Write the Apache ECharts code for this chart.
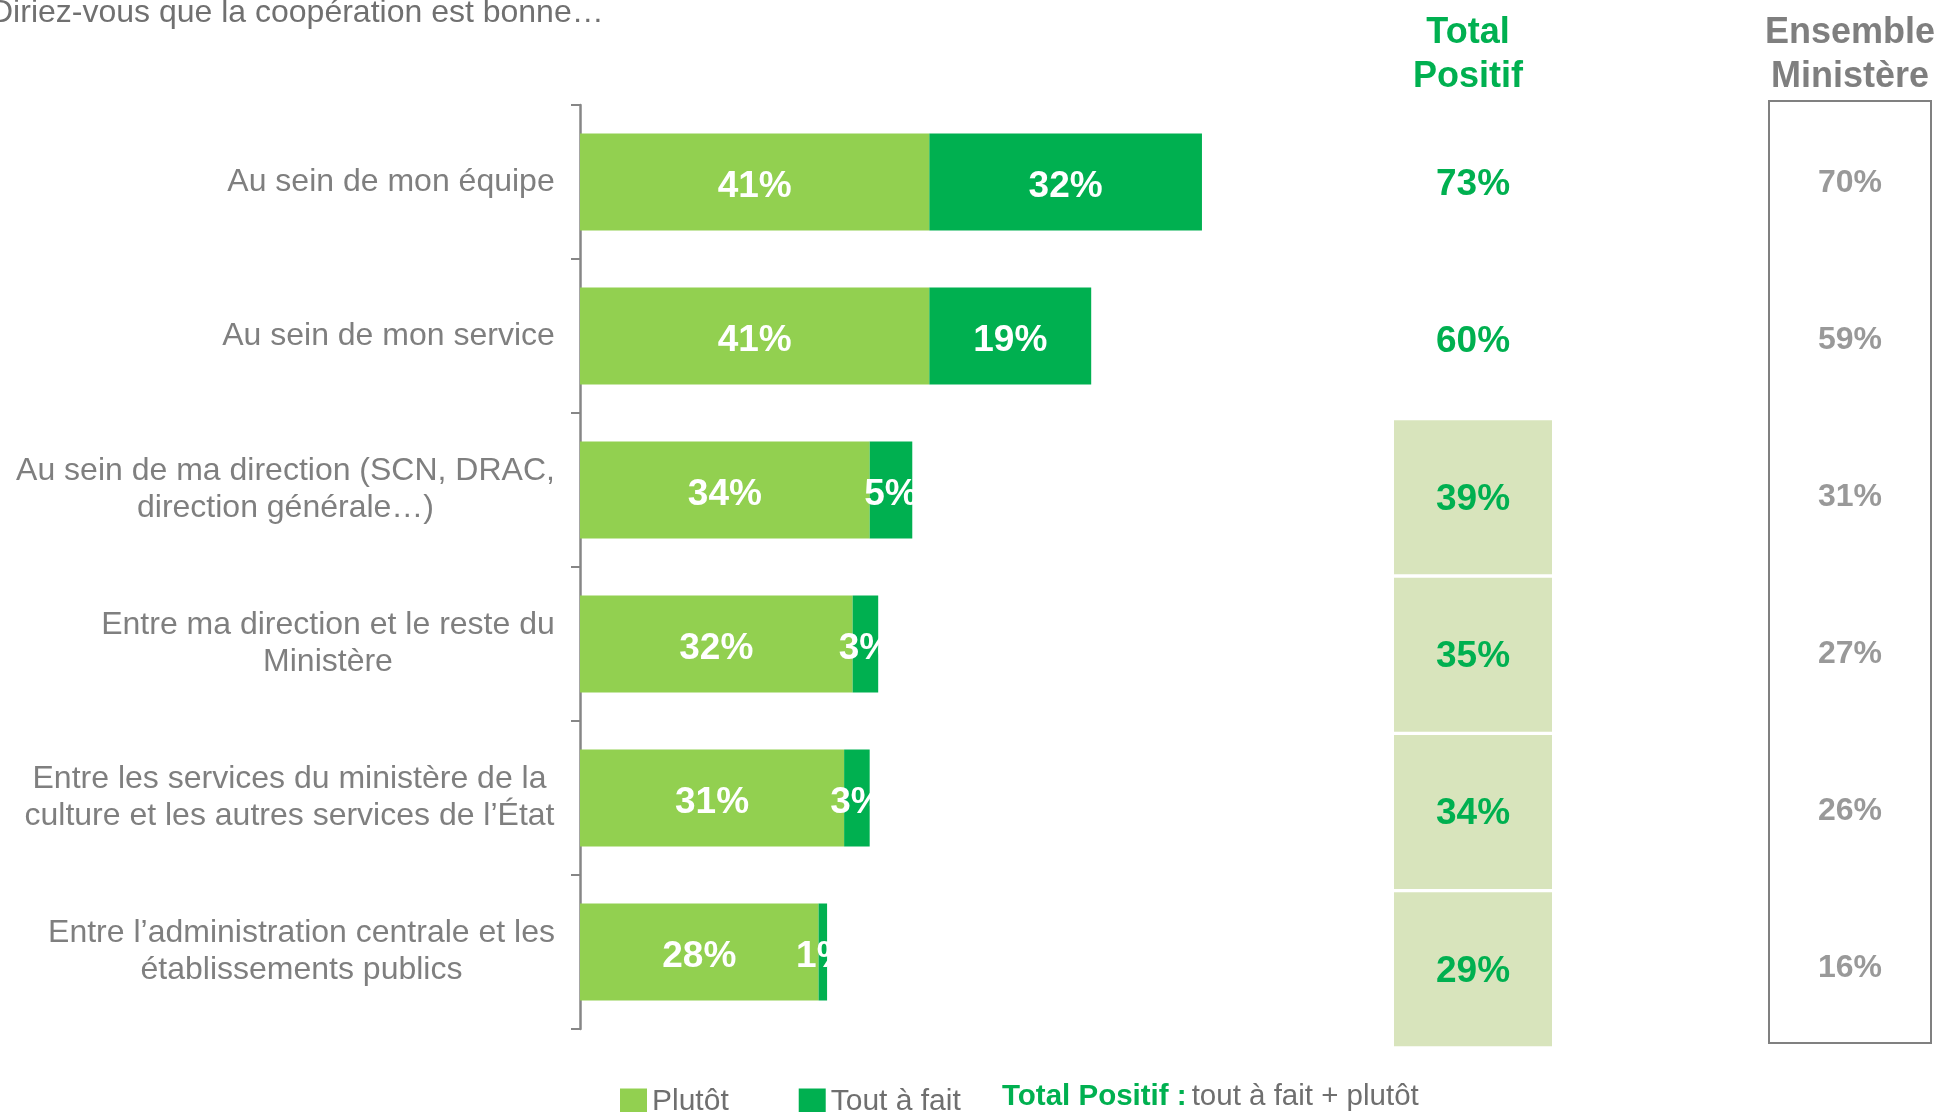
<!DOCTYPE html>
<html>
<head>
<meta charset="utf-8">
<title>Coopération</title>
<script src="https://cdn.jsdelivr.net/npm/echarts@6/dist/echarts.min.js"></script>
<style>
  html, body { margin: 0; padding: 0; background: #fff; }
  #chart { width: 1944px; height: 1112px; }
</style>
</head>
<body>
<div id="chart"></div>
<script>
// data
const categories = [
  'Au sein de mon équipe',
  'Au sein de mon service',
  'Au sein de ma direction (SCN, DRAC,\ndirection générale…)',
  'Entre ma direction et le reste du\nMinistère',
  'Entre les services du ministère de la\nculture et les autres services de l’État',
  'Entre l’administration centrale et les\nétablissements publics'
];
const plutot = [41, 41, 34, 32, 31, 28];
const toutAFait = [32, 19, 5, 3, 3, 1];
const totalPositif = [73, 60, 39, 35, 34, 29];
const ensembleMinistere = [70, 59, 31, 27, 26, 16];
const highlightRows = [false, false, true, true, true, true];

const FONT = '"Liberation Sans", Arial, sans-serif';
const GREY = '#7f7f7f';
const LIGHT = '#92D050';
const DARK = '#00B050';
const CAT_SIZE = 32;

// each category label: block right aligned on the axis, lines centred inside it
const ctx = document.createElement('canvas').getContext('2d');
ctx.font = CAT_SIZE + 'px "Liberation Sans"';
const labelRich = {};
categories.forEach(function (c, i) {
  let w = 0;
  c.split('\n').forEach(function (s) { w = Math.max(w, ctx.measureText(s).width); });
  labelRich['l' + i] = {
    width: Math.ceil(w), align: 'center', fontSize: CAT_SIZE, lineHeight: 37,
    color: GREY, fontFamily: FONT
  };
});

var myChart = echarts.init(document.getElementById('chart'));
var option = {
  animation: false,
  backgroundColor: '#fff',
  textStyle: { fontFamily: FONT },
  title: [
    {
      text: 'Diriez-vous que la coopération est bonne…',
      left: -10, top: -5, padding: 0,
      textStyle: { fontSize: 32, fontWeight: 'normal', color: '#707070', lineHeight: 36, fontFamily: FONT }
    },
    {
      text: 'Total\nPositif',
      left: 1468, top: 11, padding: 0, textAlign: 'center',
      textStyle: { fontSize: 36, fontWeight: 'bold', color: DARK, lineHeight: 44, fontFamily: FONT }
    },
    {
      text: 'Ensemble\nMinistère',
      left: 1850, top: 11, padding: 0, textAlign: 'center',
      textStyle: { fontSize: 36, fontWeight: 'bold', color: GREY, lineHeight: 44, fontFamily: FONT }
    },
    {
      text: '{a|Total Positif :} {b|tout à fait + plutôt}',
      left: 1002, top: 1082, padding: 0,
      textStyle: {
        rich: {
          a: { fontSize: 29.5, fontWeight: 'bold', color: DARK, fontFamily: FONT },
          b: { fontSize: 29.5, fontWeight: 'normal', color: '#6f6f6f', fontFamily: FONT }
        }
      }
    }
  ],
  legend: {
    data: ['Plutôt', 'Tout à fait'],
    left: 620, top: 1087, padding: 0,
    icon: 'rect', itemWidth: 27, itemHeight: 27, itemGap: 70,
    textStyle: { fontSize: 30, color: '#6f6f6f', fontFamily: FONT }
  },
  grid: [
    { left: 580, top: 105, width: 852, height: 924 },
    { left: 1394, top: 104, width: 158, height: 944 },
    { left: 1769, top: 101, width: 162, height: 942, show: true, borderColor: '#808080', borderWidth: 2 }
  ],
  xAxis: [
    { gridIndex: 0, type: 'value', min: 0, max: 100, show: false },
    { gridIndex: 1, type: 'value', min: 0, max: 1, show: false },
    { gridIndex: 2, type: 'value', min: 0, max: 1, show: false }
  ],
  yAxis: [
    {
      gridIndex: 0, type: 'category', inverse: true, data: categories,
      axisLine: { show: true, lineStyle: { color: '#868686', width: 2.5 } },
      axisTick: { show: true, length: 9, lineStyle: { color: '#868686', width: 2 } },
      axisLabel: {
        margin: 25,
        formatter: function (v, i) {
          return v.split('\n').map(function (s) { return '{l' + i + '|' + s + '}'; }).join('\n');
        },
        rich: labelRich
      }
    },
    { gridIndex: 1, type: 'category', inverse: true, data: categories, show: false },
    { gridIndex: 2, type: 'category', inverse: true, data: categories, show: false }
  ],
  series: [
    {
      name: 'Plutôt', type: 'bar', stack: 'tot', data: plutot,
      xAxisIndex: 0, yAxisIndex: 0, barWidth: 97,
      itemStyle: { color: LIGHT },
      label: {
        show: true, position: 'inside', formatter: '{c}%', offset: [0, 5],
        color: '#fff', fontSize: 37, fontWeight: 'bold', fontFamily: FONT
      }
    },
    {
      name: 'Tout à fait', type: 'bar', stack: 'tot', data: toutAFait,
      xAxisIndex: 0, yAxisIndex: 0, barWidth: 97,
      itemStyle: { color: DARK },
      label: {
        show: true, position: 'inside', formatter: '{c}%', offset: [0, 5],
        color: '#fff', fontSize: 37, fontWeight: 'bold', fontFamily: FONT
      }
    },
    {
      name: 'Total positif', type: 'scatter', xAxisIndex: 1, yAxisIndex: 1,
      symbol: 'rect', symbolSize: [158, 154], silent: true,
      data: totalPositif.map(function (v, i) {
        return {
          value: [0.5, i, v],
          itemStyle: { opacity: 1, color: highlightRows[i] ? '#D8E4BC' : 'rgba(0,0,0,0)' }
        };
      }),
      label: {
        show: true, position: 'inside', offset: [0, 2],
        formatter: function (p) { return p.value[2] + '%'; },
        color: DARK, fontSize: 37, fontWeight: 'bold', fontFamily: FONT
      }
    },
    {
      name: 'Ensemble Ministère', type: 'scatter', xAxisIndex: 2, yAxisIndex: 2,
      symbolSize: 1, silent: true,
      itemStyle: { color: 'rgba(0,0,0,0)' },
      data: ensembleMinistere.map(function (v, i) { return [0.5, i, v]; }),
      label: {
        show: true, position: 'inside', offset: [0, 4],
        formatter: function (p) { return p.value[2] + '%'; },
        color: GREY, fontSize: 32, fontWeight: 'bold', fontFamily: FONT
      }
    }
  ]
};
myChart.setOption(option);
</script>
</body>
</html>
